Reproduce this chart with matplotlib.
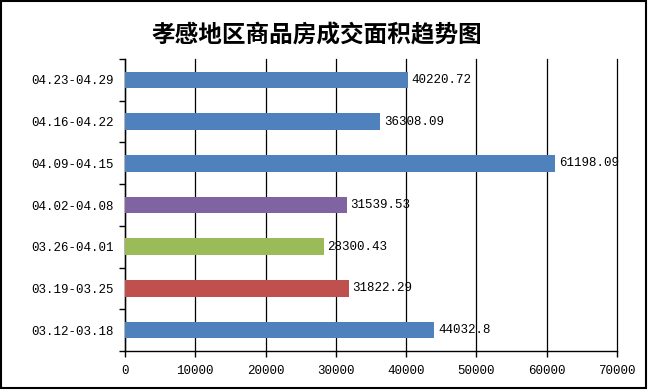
import matplotlib
matplotlib.use("Agg")
import matplotlib.pyplot as plt
from matplotlib.patches import Rectangle
import numpy as np

categories = ["03.12-03.18", "03.19-03.25", "03.26-04.01", "04.02-04.08",
              "04.09-04.15", "04.16-04.22", "04.23-04.29"]
values = [44032.8, 31822.29, 28300.43, 31539.53, 61198.09, 36308.09, 40220.72]
value_labels = ["44032.8", "31822.29", "28300.43", "31539.53", "61198.09", "36308.09", "40220.72"]
colors = ["#4F81BD", "#C0504D", "#9BBB59", "#8064A2", "#4F81BD", "#4F81BD", "#4F81BD"]
xticks = [0, 10000, 20000, 30000, 40000, 50000, 60000, 70000]
title = "孝感地区商品房成交面积趋势图"

plt.rcParams['font.family'] = ['Liberation Mono', 'DejaVu Sans Mono']

fig = plt.figure(figsize=(6.49, 3.9), dpi=100)
ax = fig.add_axes([125/649, 1-351/390, (617-125)/649, (351-59)/390])

y = np.arange(len(categories))
ax.barh(y, values, height=0.4, color=colors, zorder=3)
for yi, v, lab in zip(y, values, value_labels):
    ax.text(v + 500, yi, lab, va='center', ha='left', fontsize=9, zorder=4)

ax.set_xlim(0, 70000)
ax.set_ylim(-0.5, len(categories) - 0.5)
ax.set_xticks(xticks)
ax.set_xticklabels([str(t) for t in xticks], fontsize=9)
ax.set_yticks(y)
ax.set_yticklabels(categories, fontsize=9)
ax.tick_params(axis='y', length=0, pad=8)
ax.set_yticks(np.arange(-0.5, len(categories), 1), minor=True)
ax.tick_params(axis='y', which='minor', length=4, width=1, direction='out')
ax.tick_params(axis='x', length=4, width=1, direction='out', pad=6)
ax.xaxis.grid(True, color='black', linewidth=0.9, zorder=0)
for gl in ax.get_xgridlines():
    gl.set_clip_on(False)
for s in ['top', 'right']:
    ax.spines[s].set_visible(False)
for s in ['left', 'bottom']:
    ax.spines[s].set_linewidth(1)

fig.text(317/649, 1-35/390, title, ha='center', va='center', fontsize=17,
         fontweight='bold', family=['Noto Sans CJK SC', 'DejaVu Sans'])

fig.patches.append(Rectangle((0.002, 0.004), 0.994, 0.993, transform=fig.transFigure,
                             fill=False, edgecolor='black', linewidth=1.5))

fig.savefig("out.png", dpi=100)
